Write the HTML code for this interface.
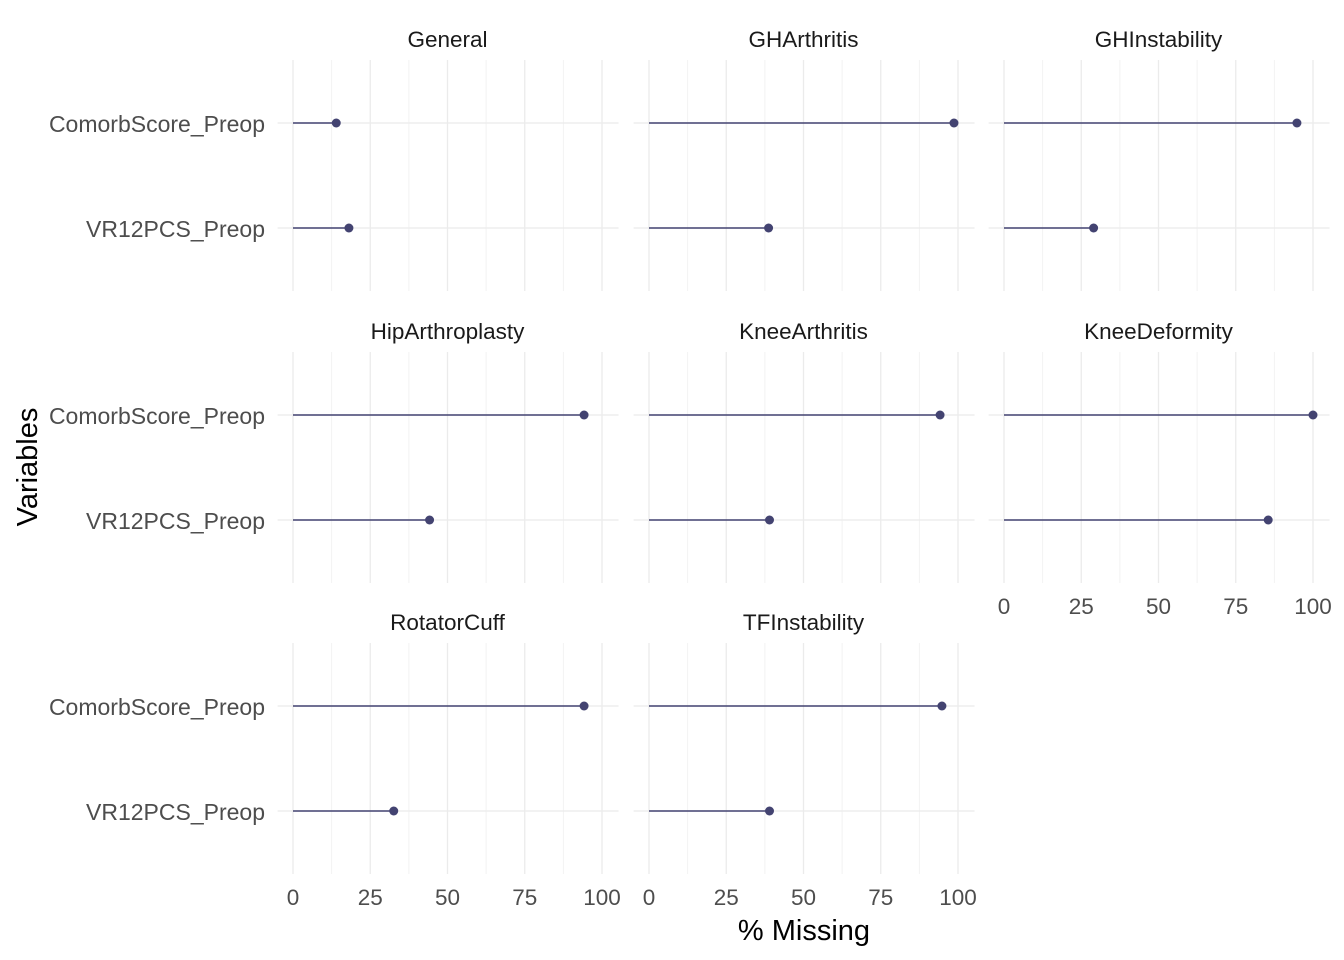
<!DOCTYPE html>
<html><head><meta charset="utf-8"><style>
body{margin:0;background:#fff;}
svg{display:block;font-family:"Liberation Sans",Arial,sans-serif;}
</style></head><body>
<svg id="chart" width="1344" height="960"></svg>
<script>
const panels = ["General","GHArthritis","GHInstability","HipArthroplasty","KneeArthritis","KneeDeformity","RotatorCuff","TFInstability"];
const variables = ["ComorbScore_Preop","VR12PCS_Preop"];
const comorbValues = [14,98.7,94.8,94.2,94.2,100,94.2,94.8];
const vr12Values = [18.1,38.7,29,44.2,39,85.5,32.6,39];
const xTicks = [0,25,50,75,100];

const svg = document.getElementById('chart');
const NS = 'http://www.w3.org/2000/svg';
function mk(tag, attrs, parent){const e=document.createElementNS(NS,tag);for(const k in attrs)e.setAttribute(k,attrs[k]);(parent||svg).appendChild(e);return e;}
const col = '#434371';
const panelW = 341, panelH = 231;
const colX0 = [293, 649, 1004];
const rowTop = [60, 352, 643];
function xScale(c, v){return colX0[c] + v*3.09;}
function yScale(r, i){return rowTop[r] + 63 + i*105;}

panels.forEach((name, p) => {
  const r = Math.floor(p/3), c = p%3;
  const g = mk('g', {});
  
  
  const left = xScale(c,-5), top = rowTop[r];
  for (let v = 12.5; v < 100; v += 25) {
    mk('line', {x1:xScale(c,v), x2:xScale(c,v), y1:top, y2:top+panelH, stroke:'#f2f2f2', 'stroke-width':1}, g);
  }
  xTicks.forEach(v => {
    mk('line', {x1:xScale(c,v), x2:xScale(c,v), y1:top, y2:top+panelH, stroke:'#ebebeb', 'stroke-width':1.3}, g);
  });
  variables.forEach((vn, i) => {
    mk('line', {x1:left, x2:left+panelW, y1:yScale(r,i), y2:yScale(r,i), stroke:'#ebebeb', 'stroke-width':1.3}, g);
  });
  const t = mk('text', {x:xScale(c,50), y:top-13, 'text-anchor':'middle', 'font-size':22.5, fill:'#1a1a1a'}, g);
  t.textContent = name;
  
  
  const vals = [comorbValues[p], vr12Values[p]];
  vals.forEach((v, i) => {
    const y = yScale(r,i);
    const ln = mk('line', {x1:xScale(c,0), x2:xScale(c,v), y1:y, y2:y, stroke:col, 'stroke-width':1.6}, g);
    
    
    const pt = mk('circle', {cx:xScale(c,v), cy:y, r:4.5, fill:col}, g);
    
    
  });
  if (c === 0) {
    variables.forEach((vn, i) => {
      const tl = mk('text', {x:265, y:yScale(r,i)+9, 'text-anchor':'end', 'font-size':23, fill:'#4d4d4d'});
      tl.textContent = vn;
      
      
    });
  }
  const showX = (r === 2) || (p === 5);
  if (showX) {
    xTicks.forEach(v => {
      const tx = mk('text', {x:xScale(c,v), y:top+panelH+31, 'text-anchor':'middle', 'font-size':22.5, fill:'#4d4d4d'});
      tx.textContent = v;
      
      
    });
  }
});
const xt = mk('text', {x:804, y:940, 'text-anchor':'middle', 'font-size':29, fill:'#000'});
xt.textContent = '% Missing';


const yt = mk('text', {x:0, y:0, 'text-anchor':'middle', 'font-size':29, fill:'#000', transform:'translate(37,467) rotate(-90)'});
yt.textContent = 'Variables';


</script>
</body></html>
